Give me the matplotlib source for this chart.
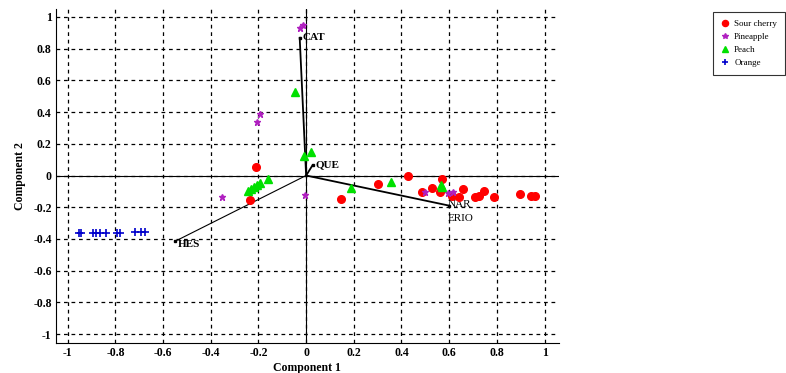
import matplotlib
matplotlib.use('Agg')
import matplotlib.pyplot as plt

# scores
sour_x = [-0.21, -0.237, 0.148, 0.30, 0.427, 0.487, 0.529, 0.571, 0.56, 0.61,
          0.641, 0.657, 0.707, 0.727, 0.748, 0.79, 0.895, 0.944, 0.958]
sour_y = [0.056, -0.155, -0.146, -0.056, 0.0, -0.104, -0.077, -0.024, -0.104, -0.13,
          -0.138, -0.087, -0.133, -0.13, -0.096, -0.138, -0.119, -0.13, -0.127]
pine_x = [-0.025, -0.015, -0.195, -0.206, -0.353, -0.006, 0.50, 0.595, 0.616]
pine_y = [0.93, 0.95, 0.386, 0.339, -0.134, -0.123, -0.104, -0.108, -0.104]
peach_x = [-0.048, -0.01, 0.019, -0.16, -0.244, -0.23, -0.22, -0.205, -0.195,
           0.19, 0.354, 0.567, 0.57]
peach_y = [0.529, 0.125, 0.146, -0.022, -0.096, -0.085, -0.07, -0.06, -0.05,
           -0.077, -0.043, -0.06, -0.075]
orange_x = [-0.953, -0.943, -0.894, -0.88, -0.863, -0.841, -0.793, -0.782,
            -0.719, -0.691, -0.677]
orange_y = [-0.361, -0.361, -0.36, -0.36, -0.36, -0.36, -0.36, -0.36,
            -0.356, -0.356, -0.356]

# loadings
load_names = ['CAT', 'QUE', 'HES', 'NAR']
load_x = [-0.027, 0.027, -0.55, 0.60]
load_y = [0.868, 0.065, -0.415, -0.19]

ticks = [-1, -0.8, -0.6, -0.4, -0.2, 0, 0.2, 0.4, 0.6, 0.8, 1]
tick_labels = ['-1', '-0.8', '-0.6', '-0.4', '-0.2', '0', '0.2', '0.4', '0.6', '0.8', '1']

plt.rcParams['font.family'] = ['Liberation Serif', 'DejaVu Serif']

fig = plt.figure(figsize=(7.86, 3.73), dpi=100)
ax = fig.add_axes([0.071, 0.080, 0.640, 0.896])

ax.set_xlim(-1.05, 1.06)
ax.set_ylim(-1.057, 1.05)
ax.set_xticks(ticks)
ax.set_yticks(ticks)
ax.set_xticklabels(tick_labels, fontsize=8.5, fontweight='bold')
ax.set_yticklabels(tick_labels, fontsize=8.5, fontweight='bold')
ax.tick_params(length=0, pad=3)
ax.grid(True, color='black', linestyle=(0, (3, 3)), linewidth=0.9)
ax.set_axisbelow(True)
ax.spines['top'].set_visible(False)
ax.spines['right'].set_visible(False)
ax.axhline(0, color='black', linewidth=0.8, zorder=1)
ax.axvline(0, color='black', linewidth=0.8, zorder=1)

# loading vectors
for name, lx, ly in zip(load_names, load_x, load_y):
    lw = 0.8 if name == 'HES' else 1.3
    ax.plot([0, lx], [0, ly], color='black', linewidth=lw, zorder=2)
    ax.plot(lx, ly, 's', color='black', markersize=2, zorder=2)
ax.text(load_x[0] + 0.012, load_y[0], 'CAT', fontsize=8, fontweight='bold', va='center')
ax.text(load_x[1] + 0.012, load_y[1], 'QUE', fontsize=8, fontweight='bold', va='center')
ax.text(load_x[2] + 0.01, load_y[2] - 0.02, 'HES', fontsize=8, fontweight='bold', va='center')
ax.text(load_x[3] - 0.005, load_y[3] + 0.01, 'NAR', fontsize=8, va='center')
ax.text(load_x[3] - 0.005, load_y[3] - 0.08, 'ERIO', fontsize=8, va='center')

ax.plot(sour_x, sour_y, 'o', color='#ff0000', markersize=5.5, linestyle='none',
        label='Sour cherry', zorder=3)
ax.plot(pine_x, pine_y, '*', color='#b020c0', markersize=5, linestyle='none',
        label='Pineapple', zorder=3)
ax.plot(peach_x, peach_y, '^', color='#00e000', markersize=5.5, linestyle='none',
        label='Peach', zorder=3)
ax.plot(orange_x, orange_y, '+', color='#0000cc', markersize=6, markeredgewidth=1.2,
        linestyle='none', label='Orange', zorder=3)

ax.set_xlabel('Component 1', fontsize=8.5, fontweight='bold', labelpad=2)
ax.set_ylabel('Component 2', fontsize=8.5, fontweight='bold', labelpad=5)

leg = fig.legend(loc='upper right', bbox_to_anchor=(0.999, 0.968), fontsize=6.5,
                 frameon=True, fancybox=False, edgecolor='black', handlelength=1,
                 handletextpad=0.5, borderpad=0.9, labelspacing=0.5, markerscale=0.8,
                 borderaxespad=0)
leg.get_frame().set_linewidth(0.8)

fig.savefig('out.png', dpi=100)
